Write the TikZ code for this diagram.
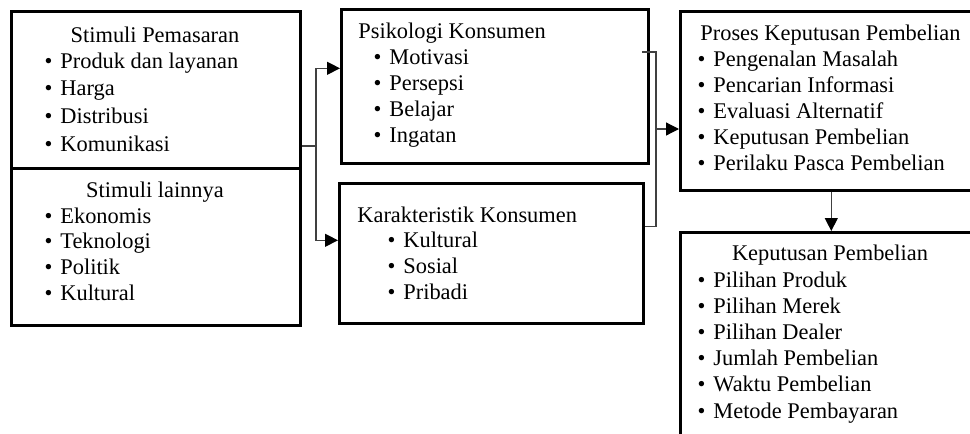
\documentclass[tikz,border=0pt]{standalone}
\usepackage{fontspec}
\setmainfont{Liberation Serif}
\usetikzlibrary{arrows.meta}

\begin{document}
\begin{tikzpicture}[x=0.5pt,y=-0.5pt,
    font=\fontsize{11.2}{13}\selectfont,
    box/.style 2 args={draw, line width=1.3pt, anchor=north west, inner sep=0,
                       minimum width=#1, minimum height=#2},
    title/.style={anchor=base, inner sep=0},
    titlel/.style={anchor=base west, inner sep=0},
    item/.style={anchor=base west, inner sep=0,
                 execute at begin node={\llap{\textbullet\hspace{4pt}}}},
    conn/.style={line width=0.6pt, black!75},
    tip/.style={-{Triangle[length=6.5pt,width=6.5pt,color=black]}}]
    \clip (0,0) rectangle (970,434);

    % boxes
    \node[box={144.5pt}{78.5pt}] (stimp) at (10,10) {};
    \node[box={144.5pt}{78.5pt}] (stiml) at (10,167) {};
    \node[box={153.5pt}{77pt}] (psiko) at (340,8) {};
    \node[box={152pt}{70pt}] (karak) at (338,182) {};
    \node[box={151pt}{89.5pt}] (proses) at (679,10) {};
    \node[box={151pt}{115pt}] (kepb) at (679,231) {};

    % titles
    \node[title] (stimp-t) at (155,42) {Stimuli Pemasaran};
    \node[title] (stiml-t) at (155,197) {Stimuli lainnya};
    \node[titlel] (psiko-t) at (358,38) {Psikologi Konsumen};
    \node[titlel] (karak-t) at (357,222) {Karakteristik Konsumen};
    \node[titlel] (proses-t) at (700,40) {Proses Keputusan Pembelian};
    \node[title] (kepb-t) at (830,260) {Keputusan Pembelian};

    % lists
    \foreach \t [count=\i] in {Produk dan layanan, Harga, Distribusi, Komunikasi}
        \node[item] (stimp\i) at (60,{68+27.9*(\i-1)}) {\t};
    \foreach \t [count=\i] in {Ekonomis, Teknologi, Politik, Kultural}
        \node[item] (stiml\i) at (60,{223+25.7*(\i-1)}) {\t};
    \foreach \t [count=\i] in {Motivasi, Persepsi, Belajar, Ingatan}
        \node[item] (psiko\i) at (389,{64+26.3*(\i-1)}) {\t};
    \foreach \t [count=\i] in {Kultural, Sosial, Pribadi}
        \node[item] (karak\i) at (403,{247+26*(\i-1)}) {\t};
    \foreach \t [count=\i] in {Pengenalan Masalah, Pencarian Informasi,
                               Evaluasi Alternatif, Keputusan Pembelian,
                               Perilaku Pasca Pembelian}
        \node[item] (proses\i) at (713,{66+26*(\i-1)}) {\t};
    \foreach \t [count=\i] in {Pilihan Produk, Pilihan Merek, Pilihan Dealer,
                               Jumlah Pembelian, Waktu Pembelian, Metode Pembayaran}
        \node[item] (kepb\i) at (713,{287+26.2*(\i-1)}) {\t};

    % connectors
    \coordinate (split) at (316,146);
    \coordinate (join) at (656,129);
    \coordinate (psiko-out) at (642,52);
    \draw[conn] (stimp.east |- split) -- (split);
    \draw[conn,tip] (split) |- ([yshift=9pt]psiko.west);
    \draw[conn,tip] (split) |- ([yshift=6.5pt]karak.east -| karak.west);
    \draw[conn] (psiko-out) -| (join) |- ([yshift=13.5pt]karak.east);
    \draw[conn,tip] (join) -- (proses.west |- join);
    \draw[conn,tip] (proses.south) -- (kepb.north);
\end{tikzpicture}
\end{document}
